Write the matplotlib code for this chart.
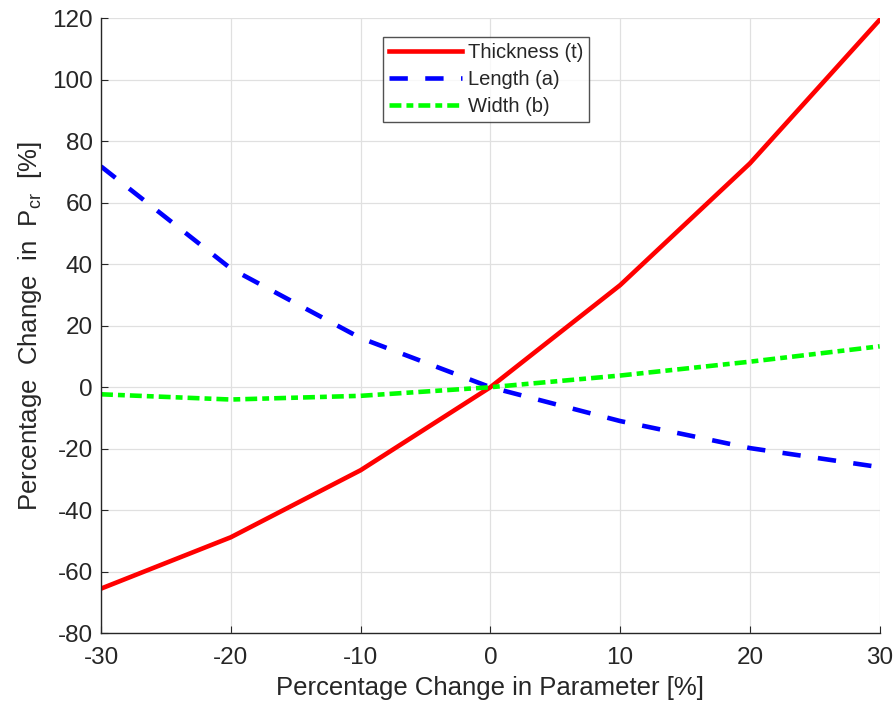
import matplotlib
matplotlib.use("Agg")
import matplotlib.pyplot as plt

plt.rcParams['font.family'] = ['Liberation Sans', 'DejaVu Sans']
plt.rcParams['axes.unicode_minus'] = False
plt.rcParams['mathtext.fontset'] = 'custom'
plt.rcParams['mathtext.rm'] = 'Liberation Sans'

param_change = [-30, -20, -10, 0, 10, 20, 30]
thickness = [-65.5, -48.8, -27.0, 0.0, 33.2, 72.8, 119.5]
length = [71.8, 38.6, 16.0, 0.0, -11.0, -19.8, -26.0]
width = [-2.3, -4.0, -2.8, 0.0, 3.8, 8.3, 13.3]

xticks = [-30, -20, -10, 0, 10, 20, 30]
yticks = [-80, -60, -40, -20, 0, 20, 40, 60, 80, 100, 120]

fig = plt.figure(figsize=(8.94, 7.02), dpi=100)
ax = fig.add_axes([0.113, 0.098, 0.871, 0.876])

lw = 3.3
ax.plot(param_change, thickness, color=(1, 0, 0), lw=lw, ls='-', label='Thickness (t)')
ax.plot(param_change, length, color=(0, 0, 1), lw=lw, ls=(0, (4.0, 3.8)), label='Length (a)')
ax.plot(param_change, width, color=(0, 1, 0), lw=lw, ls=(0, (2.6, 1.1, 1.5, 1.1)), label='Width (b)')

ax.set_xlim(-30, 30)
ax.set_ylim(-80, 120)
ax.set_xticks(xticks)
ax.set_yticks(yticks)
ax.grid(True, color='#e0e0e0', lw=0.9)
ax.set_axisbelow(True)

axis_color = '#262626'
for side in ['left', 'bottom']:
    ax.spines[side].set_color(axis_color)
    ax.spines[side].set_linewidth(1.0)
for side in ['top', 'right']:
    ax.spines[side].set_visible(False)
ax.tick_params(axis='both', direction='in', length=5, color=axis_color,
               labelcolor=axis_color, labelsize=17.5,
               top=False, right=False)
ax.tick_params(axis='x', pad=10)
ax.tick_params(axis='y', pad=6)

ax.set_xlabel('Percentage Change in Parameter [%]', fontsize=18.5, color=axis_color, labelpad=5)
ax.set_ylabel(r'Percentage  Change  in  P$_{\mathrm{cr}}$  [%]', fontsize=18.5,
              color=axis_color, labelpad=6)

leg = ax.legend(loc='upper left', bbox_to_anchor=(383 / 894, 1 - 37 / 702),
                bbox_transform=fig.transFigure, fontsize=14.5,
                frameon=True, fancybox=False, edgecolor='#262626',
                handlelength=3.6, handletextpad=0.3, borderpad=0.3,
                labelspacing=0.4, borderaxespad=0.0)
leg.get_frame().set_linewidth(1.0)
for t in leg.get_texts():
    t.set_color(axis_color)

fig.savefig('out.png', dpi=100)
